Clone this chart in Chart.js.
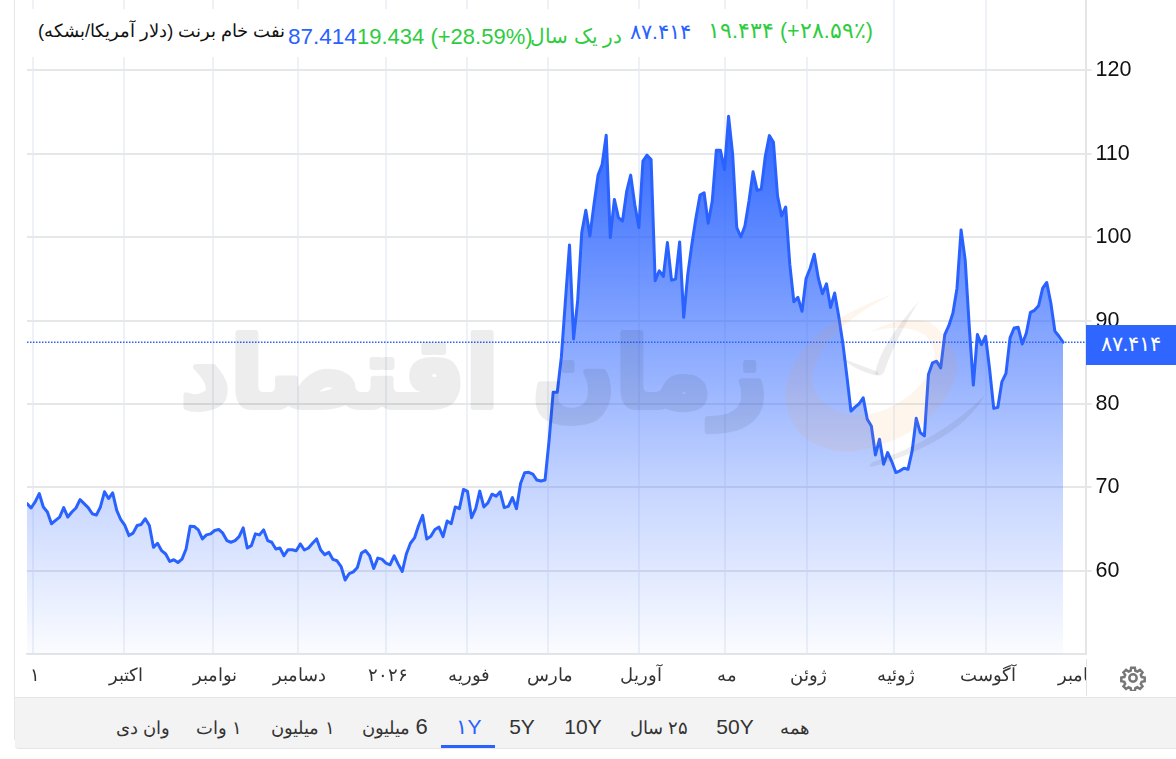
<!DOCTYPE html>
<html lang="fa"><head><meta charset="utf-8">
<style>
html,body{margin:0;padding:0;background:#fff;width:1176px;height:759px;overflow:hidden;font-family:"Liberation Sans",Arial,sans-serif}
#wrap{position:absolute;left:0;top:0;width:1176px;height:759px;overflow:hidden}
#c{position:absolute;left:0;top:0;width:1176px;height:696px}
#leftline{position:absolute;left:14px;top:0;width:1px;height:740px;background:#e6e6e6}
#head{position:absolute;left:30px;top:9px;width:850px;height:48px;background:#fff}
.t{position:absolute;white-space:nowrap;line-height:1}
#price{position:absolute;left:1086px;top:325px;width:90px;height:40px;background:#2f66ff;color:#fff;font-size:21px;text-align:center;line-height:38px}
#cover{position:absolute;left:1087px;top:656px;width:89px;height:40px;background:#fff}
#vl{position:absolute;left:1086px;top:659px;width:1px;height:37px;background:#e3e3e3}
#gear{position:absolute;left:1120px;top:665px;width:26px;height:26px}
#bar{position:absolute;left:15px;top:697px;width:1161px;height:52px;background:#f3f3f3;border-top:1px solid #e6e6e6;border-bottom:1px solid #e6e6e6;border-bottom-left-radius:4px;box-sizing:border-box}
.tab{position:absolute;top:715px;font-size:21px;color:#333;white-space:nowrap;transform:translateX(-50%)}
.tab.small{font-size:18px;top:717px}
.tab.small b{font-weight:normal;font-size:22px;line-height:18px}
#ul{position:absolute;left:441px;top:745px;width:54px;height:3px;background:#2962ff}
</style></head><body><div id="wrap">
<canvas id="c" width="1176" height="696"></canvas>
<div id="leftline"></div>
<div id="head"></div>
<div class="t" style="left:38px;top:22px;font-size:18.2px;color:#111" dir="rtl">نفت خام برنت (دلار آمریکا/بشکه)</div>
<div class="t" style="left:288px;top:26px;font-size:22.5px;color:#2962ff">87.414</div>
<div class="t" style="left:357px;top:26px;font-size:22px;color:#2ecc40">19.434 (+28.59%)</div>
<div class="t" style="left:530px;top:26px;font-size:20px;color:#2ecc40" dir="rtl">در یک سال</div>
<div class="t" style="left:630px;top:21px;font-size:21px;color:#2962ff">۸۷.۴۱۴</div>
<div class="t" style="left:708px;top:21px;font-size:21.5px;color:#2ecc40" dir="ltr">۱۹.۴۳۴ (+۲۸.۵۹٪)</div>
<div id="price">۸۷.۴۱۴</div>
<div id="cover"></div><div id="vl"></div>
<svg id="gear" viewBox="0 0 24 24" fill="none" stroke="#777" stroke-width="2.3"><circle cx="12" cy="12" r="3.4"/><path d="M10.3 2.5h3.4l.5 2.8 1.9.8 2.3-1.6 2.4 2.4-1.6 2.3.8 1.9 2.8.5v3.4l-2.8.5-.8 1.9 1.6 2.3-2.4 2.4-2.3-1.6-1.9.8-.5 2.8h-3.4l-.5-2.8-1.9-.8-2.3 1.6-2.4-2.4 1.6-2.3-.8-1.9-2.8-.5v-3.4l2.8-.5.8-1.9-1.6-2.3 2.4-2.4 2.3 1.6 1.9-.8z"/></svg>
<div id="bar"></div>
<div id="ul"></div>
<div id="tabs"></div>
</div>
<script src="https://cdn.jsdelivr.net/npm/chart.js@4"></script>
<script>
const seriesName = "نفت خام برنت (دلار آمریکا/بشکه)";
const pricesA = [68.06,67.54,68.27,69.27,67.66,67.06,65.65,66.05,66.45,67.58,66.45,67.06,67.54,68.55,68.06,67.58,66.85,66.69,67.66,69.48,68.67,69.35,67.26,66.13,65.44,64.23,64.52,65.44,65.56,66.25,65.44,62.82,63.31,62.42,62.02,61.13,61.33,61.0,61.41,62.62,65.36,65.32,64.92,63.83,64.31,64.44,64.84,64.96,64.52,63.63,63.43,63.63,64.11,65.16,62.74,63.02,64.44,64.31,64.92,63.63,63.43,62.62,62.74,61.81,62.54,62.54];
const pricesB = [62.42,63.23,62.5,62.74,63.31,63.83,62.5,61.94,62.22,61.37,61.21,60.52,58.91,59.68,59.88,60.4,62.14,62.42,61.81,60.28,61.53,61.41,60.93,60.73,61.81,60.81,59.92,62.02,63.31,63.95,65.44,66.65,63.83,64.15,64.96,65.24,64.11,65.97,65.65,67.66,67.46,69.76,69.52,66.37,67.46,69.56,67.66,68.15,69.19,68.95,69.48,67.58,67.74,68.79,67.46,70.48,71.77,71.81,71.61,70.89,70.77,70.89];
const pricesC = [75.66,81.43,81.43,85.62,92.39,99.08,87.81,92.39,100.56,103.23,100.16,103.94,107.45,108.73,112.23,99.96,104.54,102.35,101.95,105.46,107.45,103.94,101.16,109.12,109.84,109.32,94.78,95.98,95.3,99.36,94.86,94.98,99.44,90.4,95.58,99.16,102.35,105.06,105.34,101.67,104.34,110.44,110.44,108.13,114.5,109.92,101.16,100.04,101.35,104.34,107.85,105.62,105.74,109.72,112.19,111.39,104.94,102.55,103.63,96.77,92.27,92.79,91.12,95.06];
const pricesD = [96.29,97.97,95.1,93.23,94.42,91.59,93.31,90.52,87.33,83.35,79.16,79.64,80.04,80.76,78.17,77.37,73.9,75.78,72.79,74.18,73.11,71.79,71.99,72.31,72.19,74.38,78.29,76.57,76.18,83.55,84.94,85.14,84.34,88.33,89.4,90.92,93.9,100.88,97.29,89.32,82.27,88.33,87.13,88.13,84.14,79.48,79.6,82.67,83.67,87.93,89.12,89.2,87.21,88.53,91.0,91.24,91.79,93.9,94.58,92.11,88.73,88.13,87.414];
const prices = pricesA.concat(pricesB, pricesC, pricesD);
const lastPrice = 87.414;
const monthLabels = ["۱","اکتبر","نوامبر","دسامبر","۲۰۲۶","فوریه","مارس","آوریل","مه","ژوئن","ژوئیه","آگوست","سپتامبر"];
const monthIndex = [1.5,23.8,45.6,66.4,88,107.9,127.7,150,171.2,191.2,212.6,235.1,259.1];
const yTicks = [60,70,80,90,100,110,120];
const rangeLabels = ["وان دی","۱ وات","۱ میلیون","6 میلیون","۱Y","5Y","10Y","۲۵ سال","50Y","همه"];
const rangeCenters = [143,219,303,395,469,522,583,659,735,795];

const tabs=document.getElementById('tabs');
rangeLabels.forEach((l,i)=>{const d=document.createElement('div');const isY=/Y$/.test(l);d.className='tab'+(isY?'':' small');if(!isY)d.dir='rtl';
 if(l.startsWith('6')){const b=document.createElement('b');b.textContent='6';d.appendChild(b);d.appendChild(document.createTextNode(l.slice(1)));}else d.textContent=l;
 d.style.left=rangeCenters[i]+'px';if(l==='۱Y')d.style.color='#2962ff';tabs.appendChild(d);});

const xMax=259.5, yMin=50.03, yMax=128.45;
function path(c,d){c.fill(new Path2D(d));}
const wmPlugin={id:'wm',
 afterDatasetsDraw(ch){const c=ch.ctx;
 const o=document.createElement('canvas');o.width=1176;o.height=696;const x=o.getContext('2d');
 x.direction='rtl';x.font='bold 97px "DejaVu Sans"';x.fillStyle='#000';x.strokeStyle='#000';x.lineWidth=6;x.lineJoin='round';x.textAlign='center';x.textBaseline='middle';
 x.fillText('زمان اقتصاد',474,382);x.strokeText('زمان اقتصاد',474,382);
 c.save();c.globalAlpha=0.07;c.drawImage(o,0,0);c.restore();
 c.save();
 c.fillStyle='rgba(245,140,60,0.09)';
 path(c,'M893 294 Q790 330 785 395 Q790 450 850 452 Q930 440 955 380 Q965 350 930 322 Q900 315 870 332 Q905 322 925 335 Q950 360 910 395 Q870 425 835 410 Q805 395 815 365 Q830 325 893 294 Z');
 c.fillStyle='rgba(60,60,70,0.09)';
 path(c,'M985 395 Q960 440 875 466 Q865 468 873 462 Q940 440 985 395 Z');
 path(c,'M919 301 Q895 340 884 372 Q880 378 875 374 Q880 345 919 301 Z');
 path(c,'M841 358 Q860 365 878 372 Q880 376 874 375 Q855 370 841 358 Z');
 c.restore();}};

new Chart(document.getElementById('c'),{type:'line',
 data:{datasets:[
  {data:prices.map((v,i)=>({x:i,y:v})),borderColor:'#2962ff',borderWidth:3,borderJoinStyle:'round',borderCapStyle:'round',pointRadius:0,tension:0,fill:'origin',
   backgroundColor(ctx){const ch=ctx.chart,a=ch.chartArea;if(!a)return'transparent';const top=ch.scales.y.getPixelForValue(Math.max(...prices));const g=ch.ctx.createLinearGradient(0,top,0,a.bottom);g.addColorStop(0,'rgba(41,98,255,0.98)');g.addColorStop(0.5,'rgba(41,98,255,0.47)');g.addColorStop(0.7,'rgba(41,98,255,0.26)');g.addColorStop(1,'rgba(41,98,255,0.02)');return g;}},
  {data:[{x:0,y:lastPrice},{x:xMax,y:lastPrice}],borderColor:'#2962ff',borderWidth:1.5,borderDash:[1.5,1.5],pointRadius:0,fill:false}
 ]},
 plugins:[wmPlugin],
 options:{responsive:false,animation:false,
  layout:{padding:{left:27,top:0,right:0,bottom:0}},
  plugins:{legend:{display:false},tooltip:{enabled:false},title:{display:false}},
  scales:{
   x:{type:'linear',min:0,max:xMax,
    afterBuildTicks(s){s.ticks=monthIndex.map(v=>({value:v}));},
    afterFit(s){s.height=42;s.paddingLeft=0;s.paddingRight=0;},
    grid:{color:(c)=>c.index===monthIndex.length-1?'rgba(0,0,0,0)':'#eef2f8',lineWidth:2,drawTicks:false},
    border:{color:'#e4e5e7',width:2},
    ticks:{autoSkip:false,maxRotation:0,minRotation:0,padding:12,labelOffset:2,color:'#333',font:{family:'"Liberation Sans",Arial,sans-serif',size:17.5},callback(v,i){return monthLabels[i];}}},
   y:{position:'right',min:yMin,max:yMax,
    afterBuildTicks(s){s.ticks=yTicks.map(v=>({value:v}));},
    afterFit(s){s.width=1176-1085.5;s.paddingTop=0;s.paddingBottom=0;},
    grid:{color:'#e6e7e9',lineWidth:2,drawTicks:true,tickLength:6},
    border:{color:'#e4e5e7',width:2},
    ticks:{padding:4,color:'#111',font:{family:'"Liberation Sans",Arial,sans-serif',size:21.5},callback(v){return String(v);}}}
  }}});
</script></body></html>
